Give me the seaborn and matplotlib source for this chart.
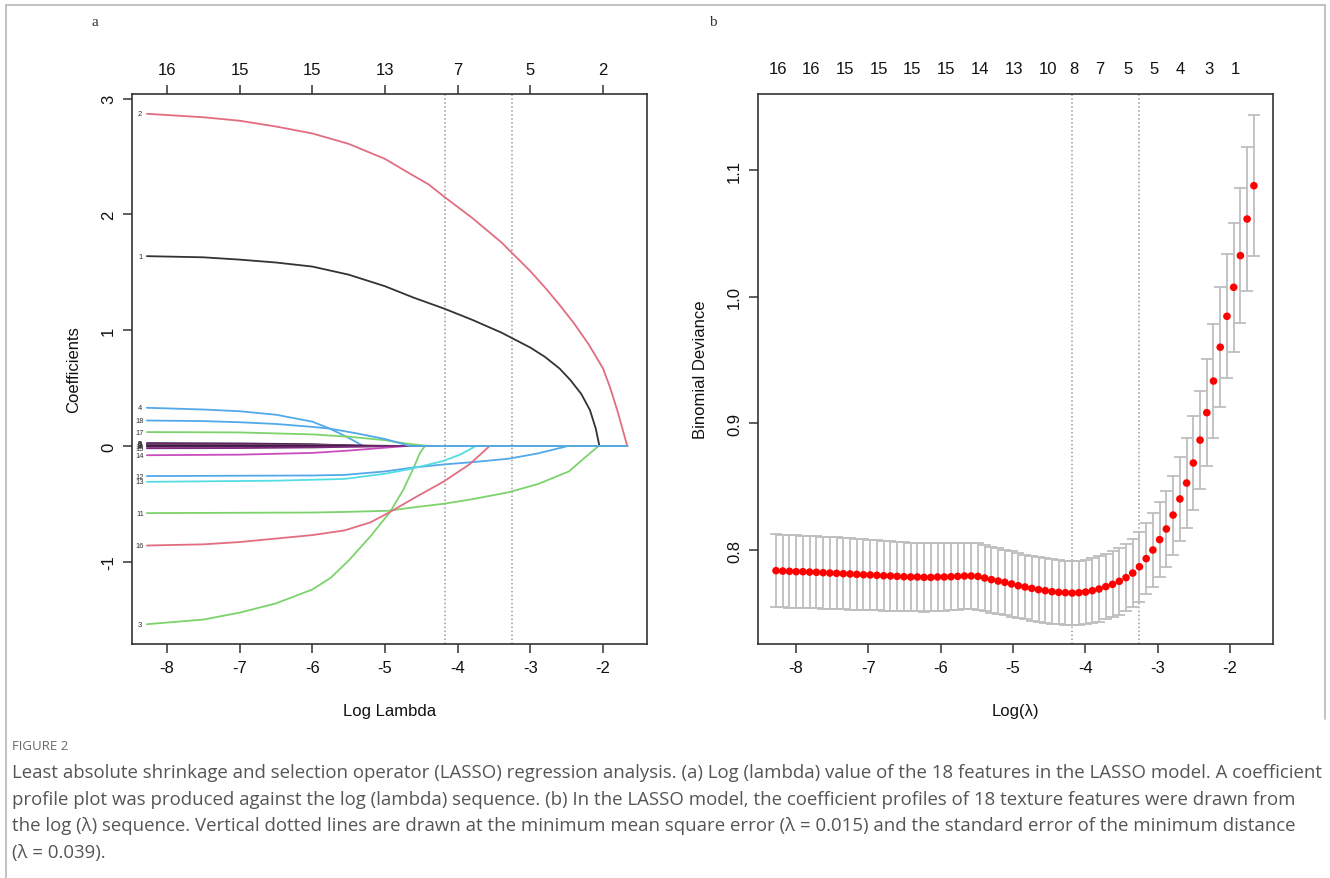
import numpy as np
import pandas as pd
import matplotlib
matplotlib.use("Agg")
import matplotlib.pyplot as plt
from matplotlib.lines import Line2D
import seaborn as sns

sns.set_theme(style="white")
plt.rcParams["font.family"] = ["Liberation Sans", "DejaVu Sans"]

# ---------------- data: panel a (coefficient paths) ----------------
features = [1, 2, 3, 4, 5, 6, 7, 8, 9, 10, 11, 12, 13, 14, 15, 16, 17, 18]
path_x = {
    1: [-8.277, -7.5, -7.0, -6.5, -6.0, -5.5, -5.0, -4.6, -4.2, -3.8, -3.4, -3.0, -2.8, -2.6,
        -2.45, -2.3, -2.18, -2.1, -2.05],
    2: [-8.277, -7.5, -7.0, -6.5, -6.0, -5.5, -5.0, -4.65, -4.4, -4.2, -3.8, -3.4, -3.0, -2.8,
        -2.6, -2.4, -2.2, -2.0, -1.9, -1.8, -1.667],
    3: [-8.277, -7.5, -7.0, -6.5, -6.0, -5.75, -5.5, -5.2, -4.93, -4.75, -4.6, -4.52, -4.45],
    4: [-8.277, -7.5, -7.0, -6.5, -6.0, -5.76, -5.5, -5.3],
    5: [-8.277, -7.0, -6.0, -5.6, -5.35],
    6: [-8.277, -7.0, -6.0, -5.5, -5.2],
    7: [-8.277, -7.0, -6.0, -5.3, -5.0],
    8: [-8.277, -7.0, -6.0, -5.0, -4.8],
    9: [-8.277, -1.667],
    10: [-8.277, -7.0, -6.0, -5.0, -4.7],
    11: [-8.277, -6.0, -5.56, -4.96, -4.6, -4.2, -3.8, -3.3, -2.9, -2.47, -2.25, -2.06],
    12: [-8.277, -6.0, -5.56, -5.0, -4.66, -4.2, -3.8, -3.3, -2.9, -2.48],
    13: [-8.277, -6.5, -5.56, -5.0, -4.66, -4.2, -3.95, -3.75],
    14: [-8.277, -7.0, -6.0, -5.5, -5.0, -4.7],
    15: [-8.277, -7.0, -6.0, -5.2, -4.9],
    16: [-8.277, -7.5, -7.0, -6.5, -6.0, -5.56, -5.2, -4.93, -4.6, -4.2, -3.84, -3.56],
    17: [-8.277, -7.0, -6.0, -5.5, -5.0, -4.7, -4.4],
    18: [-8.277, -7.5, -7.0, -6.5, -6.0, -5.76, -5.4, -5.0, -4.66],
}
path_coef = {
    1: [1.64, 1.63, 1.61, 1.585, 1.55, 1.48, 1.38, 1.28, 1.19, 1.09, 0.98, 0.85, 0.77, 0.67,
        0.57, 0.45, 0.31, 0.15, 0.0],
    2: [2.87, 2.84, 2.81, 2.76, 2.70, 2.61, 2.48, 2.35, 2.26, 2.16, 1.97, 1.76, 1.51, 1.37,
        1.22, 1.06, 0.88, 0.67, 0.50, 0.30, 0.0],
    3: [-1.54, -1.50, -1.44, -1.36, -1.24, -1.14, -0.99, -0.78, -0.57, -0.38, -0.18, -0.06, 0.0],
    4: [0.33, 0.315, 0.30, 0.27, 0.21, 0.15, 0.07, 0.0],
    5: [0.025, 0.022, 0.015, 0.007, 0.0],
    6: [0.018, 0.016, 0.011, 0.005, 0.0],
    7: [0.012, 0.011, 0.008, 0.003, 0.0],
    8: [0.006, 0.005, 0.004, 0.002, 0.0],
    9: [0.0, 0.0],
    10: [-0.006, -0.005, -0.004, -0.002, 0.0],
    11: [-0.58, -0.575, -0.57, -0.56, -0.53, -0.50, -0.46, -0.40, -0.33, -0.22, -0.10, 0.0],
    12: [-0.26, -0.255, -0.25, -0.22, -0.19, -0.16, -0.14, -0.11, -0.065, 0.0],
    13: [-0.31, -0.30, -0.285, -0.24, -0.20, -0.13, -0.07, 0.0],
    14: [-0.08, -0.075, -0.06, -0.04, -0.015, 0.0],
    15: [-0.02, -0.018, -0.013, -0.004, 0.0],
    16: [-0.86, -0.85, -0.83, -0.80, -0.77, -0.73, -0.66, -0.57, -0.45, -0.31, -0.16, 0.0],
    17: [0.12, 0.117, 0.10, 0.08, 0.05, 0.02, 0.0],
    18: [0.22, 0.215, 0.205, 0.19, 0.165, 0.15, 0.11, 0.06, 0.0],
}
feature_colors = {
    1: "#333333", 2: "#E36D80", 3: "#7CD36C", 4: "#52A9EA", 5: "#3a2a3a",
    6: "#6B1F6B", 7: "#8a2a8a", 8: "#555555", 9: "#222222", 10: "#5a1a5a",
    11: "#7CD36C", 12: "#52A9EA", 13: "#55DDE4", 14: "#C94DBE", 15: "#7a2a7a",
    16: "#E36D80", 17: "#7CD36C", 18: "#52A9EA",
}
top_a_ticks = [-8, -7, -6, -5, -4, -3, -2]
top_a_labels = ["16", "15", "15", "13", "7", "5", "2"]
lambda_end = -1.667

# ---------------- data: panel b (cross-validation curve) ----------------
log_lambda = [
    -8.277, -8.184, -8.091, -7.998, -7.905, -7.812, -7.718, -7.625, -7.532, -7.439,
    -7.346, -7.253, -7.160, -7.067, -6.974, -6.881, -6.788, -6.694, -6.601, -6.508,
    -6.415, -6.322, -6.229, -6.136, -6.043, -5.950, -5.857, -5.764, -5.670, -5.577,
    -5.484, -5.391, -5.298, -5.205, -5.112, -5.019, -4.926, -4.833, -4.739, -4.646,
    -4.553, -4.460, -4.367, -4.274, -4.181, -4.088, -3.995, -3.902, -3.809, -3.715,
    -3.622, -3.529, -3.436, -3.343, -3.250, -3.157, -3.064, -2.971, -2.878, -2.785,
    -2.691, -2.598, -2.505, -2.412, -2.319, -2.226, -2.133, -2.040, -1.947, -1.854,
    -1.761, -1.667,
]
cv_mean = [
    0.7837, 0.7834, 0.7832, 0.7829, 0.7829, 0.7826, 0.7824, 0.7821, 0.7818, 0.7816,
    0.7813, 0.7811, 0.7808, 0.7805, 0.7803, 0.7800, 0.7797, 0.7795, 0.7792, 0.7789,
    0.7787, 0.7787, 0.7784, 0.7784, 0.7787, 0.7787, 0.7789, 0.7792, 0.7795, 0.7795,
    0.7792, 0.7779, 0.7766, 0.7755, 0.7745, 0.7732, 0.7718, 0.7708, 0.7697, 0.7687,
    0.7679, 0.7671, 0.7666, 0.7663, 0.7660, 0.7663, 0.7668, 0.7679, 0.7692, 0.7711,
    0.7729, 0.7753, 0.7782, 0.7818, 0.7868, 0.7932, 0.8000, 0.8082, 0.8166, 0.8276,
    0.8403, 0.8529, 0.8687, 0.8868, 0.9084, 0.9334, 0.9601, 0.9845, 1.0074, 1.0324,
    1.0613, 1.0876,
]
cv_sd = [
    0.0287, 0.0287, 0.0286, 0.0286, 0.0285, 0.0285, 0.0284, 0.0284, 0.0283, 0.0283,
    0.0282, 0.0281, 0.0280, 0.0279, 0.0278, 0.0277, 0.0276, 0.0275, 0.0274, 0.0273,
    0.0272, 0.0271, 0.0270, 0.0269, 0.0268, 0.0267, 0.0266, 0.0265, 0.0264, 0.0263,
    0.0262, 0.0261, 0.0260, 0.0259, 0.0258, 0.0257, 0.0257, 0.0256, 0.0256, 0.0255,
    0.0255, 0.0255, 0.0254, 0.0254, 0.0254, 0.0254, 0.0255, 0.0256, 0.0257, 0.0259,
    0.0261, 0.0264, 0.0267, 0.0271, 0.0276, 0.0282, 0.0289, 0.0296, 0.0303, 0.0312,
    0.0330, 0.0353, 0.0371, 0.0390, 0.0420, 0.0450, 0.0474, 0.0490, 0.0510, 0.0535,
    0.0566, 0.0558,
]
top_b_pos = [-8.256, -7.79, -7.32, -6.85, -6.40, -5.93, -5.46, -4.98, -4.51, -4.16,
             -3.80, -3.41, -3.05, -2.68, -2.29, -1.93]
top_b_labels = ["16", "16", "15", "15", "15", "15", "14", "13", "10", "8",
                "7", "5", "5", "4", "3", "1"]
log_lambda_min = -4.181
log_lambda_1se = -3.250

caption_title = "FIGURE 2"
caption_lines = [
    "Least absolute shrinkage and selection operator (LASSO) regression analysis. (a) Log (lambda) value of the 18 features in the LASSO model. A coefficient",
    "profile plot was produced against the log (lambda) sequence. (b) In the LASSO model, the coefficient profiles of 18 texture features were drawn from",
    "the log (\u03bb) sequence. Vertical dotted lines are drawn at the minimum mean square error (\u03bb = 0.015) and the standard error of the minimum distance",
    "(\u03bb = 0.039).",
]

# ---------------- figure ----------------
W, H = 1330, 879
fig = plt.figure(figsize=(W / 100, H / 100), dpi=100)
fig.patch.set_facecolor("white")


def rect(l, r, t, b):
    return [l / W, 1 - b / H, (r - l) / W, (b - t) / H]


axA = fig.add_axes(rect(132, 647, 95, 645))
axB = fig.add_axes(rect(758, 1273, 95, 645))

FS = 12
for ax in (axA, axB):
    ax.set_facecolor("white")
    for s in ax.spines.values():
        s.set_visible(True)
        s.set_color("#333333")
        s.set_linewidth(1.2)
    ax.tick_params(axis="both", which="both", direction="out", length=6.5, width=1.1,
                   color="#333333", labelsize=FS, labelcolor="#111111",
                   bottom=True, left=True, top=False, right=False)
    ax.tick_params(axis="x", pad=5)
    ax.tick_params(axis="y", pad=5)
    ax.grid(False)

# ----- panel a -----
rows = []
for f in features:
    xs = list(path_x[f])
    ys = list(path_coef[f])
    if xs[-1] < lambda_end:
        xs.append(lambda_end)
        ys.append(0.0)
    for i, (x, y) in enumerate(zip(xs, ys)):
        rows.append({"feature": f, "log_lambda": x, "coef": y, "order": i})
dfA = pd.DataFrame(rows)
sns.lineplot(data=dfA, x="log_lambda", y="coef", hue="feature", hue_order=features,
             palette=feature_colors, estimator=None, sort=False, legend=False,
             linewidth=1.3, ax=axA)
for v in (log_lambda_min, log_lambda_1se):
    axA.axvline(v, color="#9a9a9a", linestyle=(0, (1, 1.6)), linewidth=1.1, zorder=0)
for f in features:
    axA.text(-8.37, path_coef[f][0], str(f), fontsize=5.5, color="#333333",
             ha="center", va="center")
axA.set_xlim(-8.482, -1.395)
axA.set_ylim(-1.711, 3.041)
axA.set_xticks([-8, -7, -6, -5, -4, -3, -2])
axA.set_yticks([-1, 0, 1, 2, 3])
axA.set_yticklabels(["-1", "0", "1", "2", "3"], rotation=90, va="center")
axA.set_xticklabels([str(t) for t in [-8, -7, -6, -5, -4, -3, -2]])
axA.set_xlabel("Log Lambda", fontsize=FS, labelpad=20, color="#111111")
axA.set_ylabel("Coefficients", fontsize=FS, labelpad=14, color="#111111")
topA = axA.twiny()
topA.set_xlim(axA.get_xlim())
topA.set_xticks(top_a_ticks)
topA.set_xticklabels(top_a_labels)
topA.tick_params(axis="x", direction="out", length=6.5, width=1.1, color="#333333",
                 labelsize=FS, labelcolor="#111111", pad=6, top=True)
for s in topA.spines.values():
    s.set_visible(False)
topA.grid(False)

# ----- panel b -----
dfB = pd.DataFrame({"log_lambda": log_lambda, "deviance": cv_mean, "sd": cv_sd})
axB.errorbar(dfB["log_lambda"], dfB["deviance"], yerr=dfB["sd"], fmt="none",
             ecolor="#BEBEBE", elinewidth=1.3, capsize=4.2, capthick=1.3, zorder=1)
sns.scatterplot(data=dfB, x="log_lambda", y="deviance", color="#FF0000", s=30,
                edgecolor="none", linewidth=0, zorder=3, ax=axB, legend=False)
for v in (log_lambda_min, log_lambda_1se):
    axB.axvline(v, color="#9a9a9a", linestyle=(0, (1, 1.6)), linewidth=1.1, zorder=0)
axB.set_xlim(-8.526, -1.403)
axB.set_ylim(0.7258, 1.160)
axB.set_xticks([-8, -7, -6, -5, -4, -3, -2])
axB.set_xticklabels([str(t) for t in [-8, -7, -6, -5, -4, -3, -2]])
axB.set_yticks([0.8, 0.9, 1.0, 1.1])
axB.set_yticklabels(["0.8", "0.9", "1.0", "1.1"], rotation=90, va="center")
axB.set_xlabel("Log(\u03bb)", fontsize=FS, labelpad=20, color="#111111")
axB.set_ylabel("Binomial Deviance", fontsize=FS, labelpad=14, color="#111111")
topB = axB.twiny()
topB.set_xlim(axB.get_xlim())
topB.set_xticks(top_b_pos)
topB.set_xticklabels(top_b_labels)
topB.tick_params(axis="x", length=0, labelsize=FS, labelcolor="#111111", pad=13, top=True)
for s in topB.spines.values():
    s.set_visible(False)
topB.grid(False)

# panel letters
fig.text(95 / W, 1 - 22 / H, "a", fontsize=11, family="Liberation Serif", color="#333333",
         ha="center", va="center")
fig.text(713 / W, 1 - 22 / H, "b", fontsize=11, family="Liberation Serif", color="#333333",
         ha="center", va="center")

# frame around figure
frame_kw = dict(color="#BDBDBD", linewidth=1.3, transform=fig.transFigure)
fig.add_artist(Line2D([6 / W, 1325 / W], [1 - 6 / H, 1 - 6 / H], **frame_kw))
fig.add_artist(Line2D([6 / W, 6 / W], [1 - 6 / H, 0], **frame_kw))
fig.add_artist(Line2D([1325 / W, 1325 / W], [1 - 6 / H, 1 - 720 / H], **frame_kw))

# caption
fig.text(12 / W, 1 - 746 / H, caption_title, fontsize=9.5, family="Open Sans",
         color="#6a6a6a", ha="left", va="center")
cap_y = [773, 800, 826, 853]
texts = []
for yy, line in zip(cap_y, caption_lines):
    texts.append(fig.text(12 / W, 1 - yy / H, line, fontsize=12, family="Open Sans",
                          color="#555555", ha="left", va="center"))
fig.canvas.draw()
w0 = texts[0].get_window_extent(renderer=fig.canvas.get_renderer()).width
fs = 12 * (1306 / w0)
for t in texts:
    t.set_fontsize(fs)

fig.savefig("out.png", dpi=100, facecolor="white")
